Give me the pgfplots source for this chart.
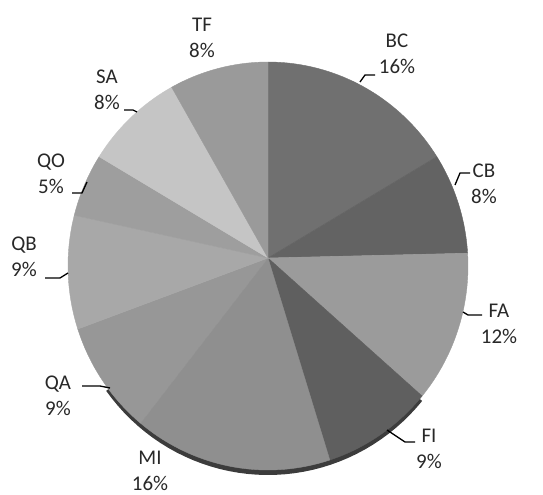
\documentclass[border=0pt]{standalone}
\usepackage{pgfplots}
\pgfplotsset{compat=1.18}
\usepackage{fontspec}
\setmainfont{Carlito}
\definecolor{cBC}{RGB}{112,112,112}
\definecolor{cCB}{RGB}{99,99,99}
\definecolor{cFA}{RGB}{155,155,155}
\definecolor{cFI}{RGB}{95,95,95}
\definecolor{cMI}{RGB}{143,143,143}
\definecolor{cQA}{RGB}{151,151,151}
\definecolor{cQB}{RGB}{168,168,168}
\definecolor{cQO}{RGB}{158,158,158}
\definecolor{cSA}{RGB}{197,197,197}
\definecolor{cTF}{RGB}{154,154,154}
\definecolor{cShadow}{RGB}{60,60,60}
\definecolor{cText}{RGB}{40,40,40}
\tikzset{lab/.style={font=\fontsize{21}{26}\selectfont, text=cText, align=center, inner sep=0pt}}
% pie geometry (picture units = px): centre of rim, radii, apex
\newcommand{\cx}{268}
\newcommand{\cy}{266}
\newcommand{\rx}{200}
\newcommand{\ry}{204}
\newcommand{\ay}{258}
% one slice: #1 colour, #2 start %, #3 end %
\newcommand{\slice}[3]{%
  \addplot[fill=#1, draw=#1, line width=0.4pt, domain=#2:#3, samples=40]
    ({\cx+\rx*sin(3.6*x)},{\cy-\ry*cos(3.6*x)}) -- (axis cs:\cx,\ay) -- cycle;}
\begin{document}
\begin{tikzpicture}
\begin{axis}[
  width=543bp, height=495bp, scale only axis,
  xmin=0, xmax=543, ymin=0, ymax=495, y dir=reverse,
  hide axis, clip=false,
]
\path (axis cs:0,0) rectangle (axis cs:543,495);
% shadow under the bottom rim
\addplot[fill=cShadow, draw=none, domain=36:65, samples=40]
  ({\cx+\rx*sin(3.6*x)},{\cy+5-\ry*cos(3.6*x)}) -- (axis cs:\cx,\ay) -- cycle;
% slices: BC 16, CB 8, FA 12, FI 9, MI 16, QA 9, QB 9, QO 5, SA 8, TF 8 (percent)
\slice{cBC}{0}{16}
\slice{cCB}{16}{24}
\slice{cFA}{24}{36}
\slice{cFI}{36}{45}
\slice{cMI}{45}{61}
\slice{cQA}{61}{70}
\slice{cQB}{70}{79}
\slice{cQO}{79}{84}
\slice{cSA}{84}{92}
\slice{cTF}{92}{100}
% labels
\node[lab] at (axis cs:202,38) {TF\\8\%};
\node[lab] at (axis cs:397,54) {BC\\16\%};
\node[lab] at (axis cs:484,184) {CB\\8\%};
\node[lab] at (axis cs:499,324) {FA\\12\%};
\node[lab] at (axis cs:429,449) {FI\\9\%};
\node[lab] at (axis cs:150,471) {MI\\16\%};
\node[lab] at (axis cs:58,396) {QA\\9\%};
\node[lab] at (axis cs:24,257) {QB\\9\%};
\node[lab] at (axis cs:51,174) {QO\\5\%};
\node[lab] at (axis cs:107,90) {SA\\8\%};
% leader lines
\draw[black, line width=1.3pt] (axis cs:360,82) -- (axis cs:365,75) -- (axis cs:375,75);
\draw[black, line width=1.3pt] (axis cs:455,185) -- (axis cs:460,173) -- (axis cs:470,173);
\draw[black, line width=1.3pt] (axis cs:463,312) -- (axis cs:468,315) -- (axis cs:482,315);
\draw[black, line width=1.3pt] (axis cs:387,430) -- (axis cs:405,442) -- (axis cs:415,442);
\draw[black, line width=1.3pt] (axis cs:110,388) -- (axis cs:100,386) -- (axis cs:82,386);
\draw[black, line width=1.3pt] (axis cs:68,273) -- (axis cs:60,278) -- (axis cs:45,278);
\draw[black, line width=1.3pt] (axis cs:87,182) -- (axis cs:82,193) -- (axis cs:72,193);
\draw[black, line width=1.3pt] (axis cs:137,112) -- (axis cs:133,110) -- (axis cs:124,110);
\end{axis}
\end{tikzpicture}
\end{document}
